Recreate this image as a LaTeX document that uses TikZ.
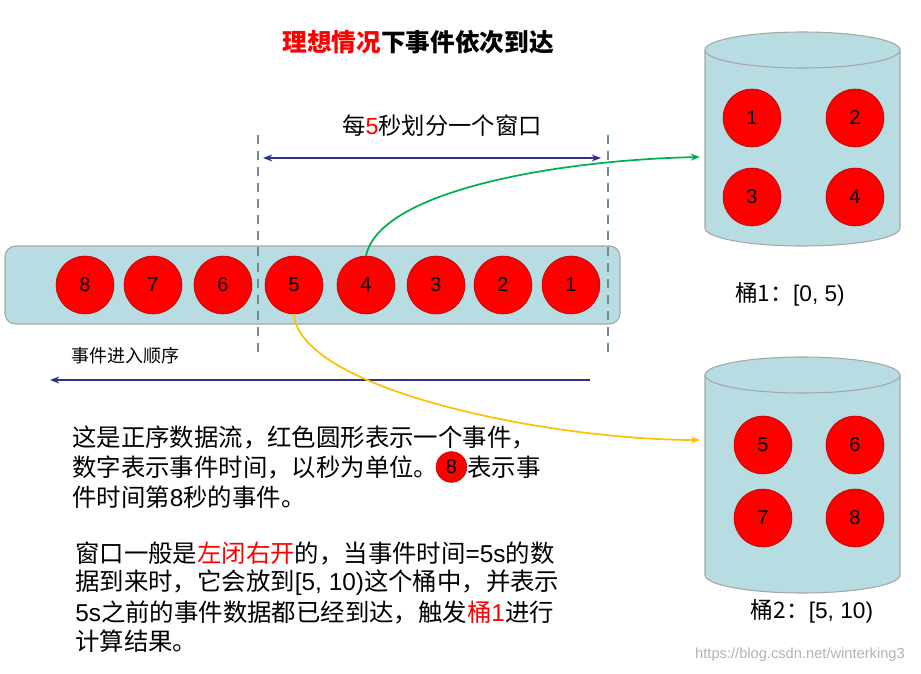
\documentclass[tikz,border=0pt]{standalone}
\usepackage{fontspec}
\setmainfont{Noto Sans CJK SC}
\newfontfamily\arialf{Liberation Sans}
\usetikzlibrary{arrows.meta}
\definecolor{nav}{RGB}{46,49,146}
\definecolor{lb}{RGB}{183,221,227}
\definecolor{dashc}{RGB}{110,140,140}
\definecolor{grn}{RGB}{0,176,80}
\definecolor{ylw}{RGB}{255,192,0}
\begin{document}
\begin{tikzpicture}[x=0.75pt,y=-0.75pt,
  ev/.style={circle,fill=red,draw=red!70!black,minimum size=43.5pt,inner sep=0pt,font=\arialf\fontsize{15}{15}\selectfont},
  txt/.style={anchor=west,inner sep=0pt,font=\fontsize{18.3}{18}\selectfont},
  cyl/.style={draw=gray!70,fill=lb,line width=0.8pt},
  vl/.style={draw=dashc,line width=1.5pt,dash pattern=on 7pt off 5pt},
  arr/.style={draw=nav,line width=1pt,-{Stealth[length=7pt]}}]
\useasboundingbox (0,0) rectangle (921,674);
\node[font=\bfseries\fontsize{18.5}{18}\selectfont] (title) at (418,42) {\textcolor{red}{理想情况}下事件依次到达};
\node[font=\fontsize{17.5}{17}\selectfont] (win) at (442,126) {每\textcolor{red}{\arialf 5}秒划分一个窗口};
\coordinate (wa) at (263,158); \coordinate (wb) at (601,158);
\draw[draw=nav,line width=1pt,{Stealth[length=7pt]}-{Stealth[length=7pt]}] (wa) -- (wb);
\draw[rounded corners=8pt,draw=gray!70,fill=lb,line width=0.8pt] (5,246) rectangle (620,324);
\foreach \x/\l/\n in {85/8/e8,153/7/e7,223/6/e6,294/5/e5,366/4/e4,436/3/e3,503/2/e2,571/1/e1}
  \node[ev] (\n) at (\x,285) {\l};
\coordinate (d1a) at (258,135); \coordinate (d1b) at (258,355);
\coordinate (d2a) at (608,135); \coordinate (d2b) at (608,355);
\draw[vl] (d1a) -- (d1b);
\draw[vl] (d2a) -- (d2b);
\node[font=\fontsize{13.5}{13}\selectfont] (ord) at (125,356) {事件进入顺序};
\coordinate (oa) at (590,380); \coordinate (ob) at (50,380);
\draw[arr] (oa) -- (ob);
% cylinder 1
\draw[cyl] (705,50) -- (705,228) arc[start angle=180,end angle=0,x radius=97.5,y radius=18] -- (900,50);
\draw[cyl] (802.5,50) ellipse[x radius=97.5,y radius=18];
\foreach \x/\y/\l/\n in {752/118/1/b1,855/118/2/b2,752/197/3/b3,855/197/4/b4}
  \node[ev] (\n) at (\x,\y) {\l};
\node[font=\fontsize{17}{17}\selectfont] (t1) at (790,294) {桶1：{\arialf[0, 5)}};
% cylinder 2
\draw[cyl] (705,375) -- (705,575) arc[start angle=180,end angle=0,x radius=97.5,y radius=18] -- (900,375);
\draw[cyl] (802.5,375) ellipse[x radius=97.5,y radius=18];
\foreach \x/\y/\l/\n in {763/445/5/c5,855/445/6/c6,763/518/7/c7,855/518/8/c8}
  \node[ev] (\n) at (\x,\y) {\l};
\node[font=\fontsize{17}{17}\selectfont] (t2) at (812,611) {桶2：{\arialf[5, 10)}};
\coordinate (g) at (700,157); \coordinate (y) at (700,440);
\draw[grn,line width=1.3pt,-{Stealth[length=7pt]}] (e4.north) .. controls (380,190) and (560,160) .. (g);
\draw[ylw,line width=1.3pt,-{Stealth[length=7pt]}] (e5.south) .. controls (300,390) and (550,440) .. (y);
\node[txt] (p1) at (72,437) {这是正序数据流，红色圆形表示一个事件，};
\node[txt] (p2) at (72,467) {数字表示事件时间，以秒为单位。};
\node[circle,fill=red,draw=red!70!black,minimum size=23pt,inner sep=0pt,font=\arialf\fontsize{15}{15}\selectfont,anchor=west] (s8) at ([xshift=-2pt]p2.east) {8};
\node[txt] (p3) at (s8.east) {表示事};
\node[txt] (p4) at (72,497) {件时间第{\arialf 8}秒的事件。};
\node[txt] (q1) at (75,553) {窗口一般是\textcolor{red}{左闭右开}的，当事件时间{\arialf =5s}的数};
\node[txt] (q2) at (75,583) {据到来时，它会放到{\arialf [5, 10)}这个桶中，并表示};
\node[txt] (q3) at (75,612) {{\arialf 5s}之前的事件数据都已经到达，触发\textcolor{red}{桶{\arialf 1}}进行};
\node[txt] (q4) at (75,641) {计算结果。};
\node[font=\arialf\fontsize{11}{11}\selectfont,text=gray!60] (wm) at (800,655) {https://blog.csdn.net/winterking3};
\end{tikzpicture}
\end{document}
